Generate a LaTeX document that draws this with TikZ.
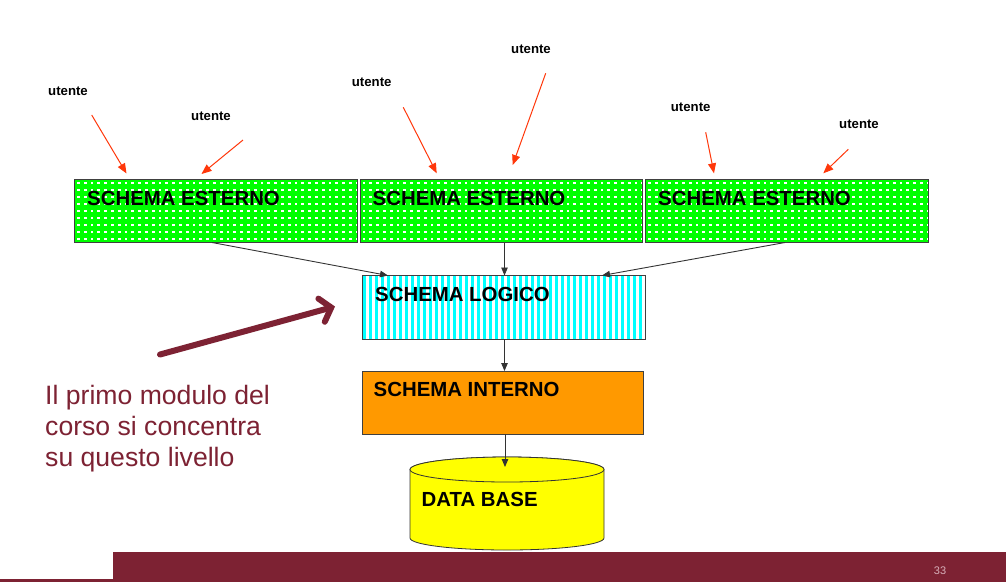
\documentclass[tikz,border=0pt]{standalone}
\usepackage{fontspec}
\setmainfont{Liberation Sans}
\usetikzlibrary{arrows.meta}
\definecolor{maroon}{RGB}{125,34,51}
\definecolor{redarr}{RGB}{255,55,10}
\definecolor{orangebox}{RGB}{255,153,0}
\definecolor{greenbox}{RGB}{0,255,0}
\definecolor{cyanbox}{RGB}{0,255,255}
\definecolor{yellowbox}{RGB}{255,255,0}
\definecolor{pagenum}{RGB}{215,175,185}
\begin{document}
\begin{tikzpicture}[x=1pt,y=-1pt,
  sebox/.style={fill=greenbox, minimum width=282pt, minimum height=63pt, inner sep=0pt},
  lgbox/.style={fill=cyanbox, minimum width=282pt, minimum height=63.5pt, inner sep=0pt},
  inbox/.style={fill=orangebox, draw=black!75, line width=0.8pt, minimum width=281pt, minimum height=63pt, inner sep=0pt},
  border/.style={draw=black!75, line width=0.8pt},
  boxtext/.style={anchor=base west, inner sep=0pt, font=\fontsize{20.4}{24}\selectfont\bfseries},
  usertext/.style={inner sep=0pt, font=\fontsize{13.2}{15}\selectfont\bfseries},
  userarrow/.style={draw=redarr, line width=1pt, -{Triangle[length=10pt,width=8pt]}},
  conn/.style={draw=black!80, line width=0.9pt, -{Triangle[length=8pt,width=6.5pt]}},
  bigtext/.style={anchor=base west, inner sep=0pt, text=maroon, font=\fontsize{26.6}{31}\selectfont}
]
\useasboundingbox (0,0) rectangle (1006,582);
\fill[white] (0,0) rectangle (1006,582);

% bottom bar
\fill[maroon] (113,551.5) rectangle (1006,582);
\fill[maroon] (0,578.5) rectangle (113,582);
\node[inner sep=0pt, text=pagenum, font=\fontsize{11}{13}\selectfont] (pg) at (940,571) {33};

% external schemas
\node[sebox] (se1) at (216,211) {};
\node[sebox] (se2) at (501.5,211) {};
\node[sebox] (se3) at (787,211) {};
\foreach \b/\x in {se1/75, se2/360.5, se3/646}{
  \begin{scope}
    \clip (\b.north west) rectangle (\b.south east);
    \foreach \i in {0,...,41}{
      \foreach \j in {0,...,8}{
        \fill[white] (\x+2+\i*6.8, 181.5+\j*7) rectangle ++(2.8,2.8);
      }
    }
  \end{scope}
  \draw[border] (\b.north west) rectangle (\b.south east);
}
\node[boxtext] (t1) at (87,205) {SCHEMA ESTERNO};
\node[boxtext] (t2) at (372.5,205) {SCHEMA ESTERNO};
\node[boxtext] (t3) at (658,205) {SCHEMA ESTERNO};

% logical schema
\node[lgbox] (lg) at (504,307.5) {};
\begin{scope}
  \clip (lg.north west) rectangle (lg.south east);
  \foreach \i in {0,...,47}{
    \fill[white] (363+3+\i*6, 270) rectangle ++(3,75);
  }
\end{scope}
\draw[border] (lg.north west) rectangle (lg.south east);
\node[boxtext] (tl) at (375,301.5) {SCHEMA LOGICO};

% internal schema
\node[inbox] (in) at (502.8,402.5) {};
\node[boxtext] (ti) at (373.5,396.5) {SCHEMA INTERNO};

% database cylinder
\path[fill=yellowbox, draw=black!80, line width=0.8pt] (410,469.5) -- (410,538)
  arc[start angle=180, end angle=360, x radius=97pt, y radius=12pt]
  -- (604,469.5) arc[start angle=0, end angle=180, x radius=97pt, y radius=12.5pt] -- cycle;
\path[fill=yellowbox, draw=black!80, line width=0.8pt] (507,469.5) ellipse [x radius=97pt, y radius=12.5pt];
\node[boxtext] (td) at (421.5,506.5) {DATA BASE};

% connectors
\coordinate (se1o) at (212,242.5);
\coordinate (se3o) at (785,242.5);
\coordinate (lgL) at (388,275.5);
\coordinate (lgR) at (602,275.5);
\coordinate (se2o) at (504.5,242.5);
\coordinate (lgM) at (504.5,275.5);
\coordinate (lgo) at (504.5,339);
\coordinate (ini) at (504.5,371);
\coordinate (ino) at (505,434);
\coordinate (dbtop) at (505,467);
\draw[conn] (se1o) -- (lgL);
\draw[conn] (se2o) -- (lgM);
\draw[conn] (se3o) -- (lgR);
\draw[conn] (lgo) -- (ini);
\draw[conn] (ino) -- (dbtop);

% users
\node[usertext] (u1) at (68,91) {utente};
\node[usertext] (u2) at (211,116) {utente};
\node[usertext] (u3) at (371.7,82.5) {utente};
\node[usertext] (u4) at (531,49) {utente};
\node[usertext] (u5) at (690.7,107.5) {utente};
\node[usertext] (u6) at (859,124) {utente};
\coordinate (a1s) at (91.7,115); \coordinate (a1e) at (126.5,173.5);
\coordinate (a2s) at (243,140);  \coordinate (a2e) at (201.5,174);
\coordinate (a3s) at (403.3,107.3); \coordinate (a3e) at (436.7,173.3);
\coordinate (a4s) at (545.7,73.3); \coordinate (a4e) at (512.7,165);
\coordinate (a5s) at (705.7,132.3); \coordinate (a5e) at (714,173.3);
\coordinate (a6s) at (848.3,149.3); \coordinate (a6e) at (823.3,173.3);
\draw[userarrow] (a1s) -- (a1e);
\draw[userarrow] (a2s) -- (a2e);
\draw[userarrow] (a3s) -- (a3e);
\draw[userarrow] (a4s) -- (a4e);
\draw[userarrow] (a5s) -- (a5e);
\draw[userarrow] (a6s) -- (a6e);

% big pointer arrow
\coordinate (bs) at (160,354.5);
\coordinate (be) at (335,306.5);
\draw[maroon, line width=6pt, line cap=round, -{Straight Barb[length=10pt,width=24pt,line cap=round]}] (bs) -- (be);

% comment text
\node[bigtext] (c1) at (45,404) {Il primo modulo del};
\node[bigtext] (c2) at (45,435.5) {corso si concentra};
\node[bigtext] (c3) at (45,466.5) {su questo livello};
\end{tikzpicture}
\end{document}
